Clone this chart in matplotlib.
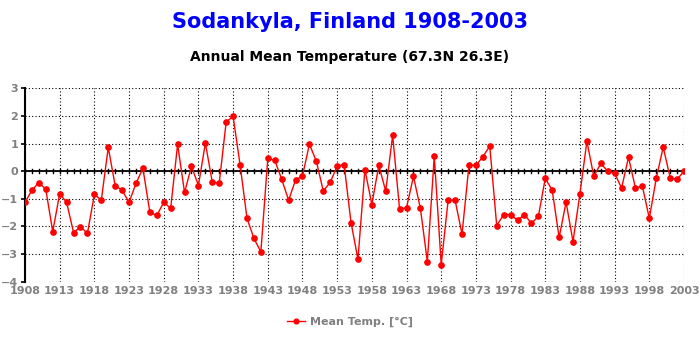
import matplotlib
matplotlib.use("Agg")
import matplotlib.pyplot as plt
import numpy as np

years = list(range(1908, 2004))
temps = [
    -1.13, -0.69, -0.41, -0.66, -2.19, -0.81, -1.13, -2.22, -2.01, -2.25,
    -0.84, -1.05, 0.86, -0.52, -0.69, -1.13, -0.44, 0.10, -1.49, -1.60,
    -1.13, -1.34, 0.97, -0.77, 0.18, -0.52, 1.02, -0.40, -0.43, 1.78,
    1.98, 0.24, -1.70, -2.43, -2.92, 0.46, 0.40, -0.29, -1.05, -0.32,
    -0.17, 0.98, 0.36, -0.72, -0.40, 0.18, 0.24, -1.86, -3.19, 0.06,
    -1.21, 0.21, -0.72, 1.30, -1.38, -1.32, -0.19, -1.35, -3.27, 0.55,
    -3.38, -1.05, -1.05, -2.28, 0.21, 0.21, 0.52, 0.91, -1.97, -1.57,
    -1.57, -1.78, -1.57, -1.89, -1.64, -0.26, -0.69, -2.40, -1.12, -2.55,
    -0.81, 1.08, -0.19, 0.28, 0.00, -0.08, -0.61, 0.50, -0.61, -0.54,
    -1.71, -0.26, 0.87, -0.23, -0.30, 0.00,
]
xticks = list(range(1908, 2004, 5))
yticks = list(range(-4, 4))

title = "Sodankyla, Finland 1908-2003"
subtitle = "Annual Mean Temperature (67.3N 26.3E)"
legend_label = "Mean Temp. [°C]"

fig = plt.figure(figsize=(7, 3.4), dpi=100)
ax = fig.add_axes([25/700, (340-281.7)/340, (684-25)/700, (281.7-88.3)/340])

grey = "#808080"
ax.set_xlim(1908, 2003)
ax.set_ylim(-4, 3)
ax.set_xticks(xticks)
ax.set_yticks(yticks)
ax.grid(True, linestyle=(0, (1, 2)), color="black", linewidth=0.8)
ax.set_axisbelow(True)

for s in ["top", "right", "bottom"]:
    ax.spines[s].set_visible(False)
ax.spines["left"].set_linewidth(1.5)
ax.spines["left"].set_color("black")

# zero line with yearly ticks
ax.axhline(0, color="black", linewidth=1.3, zorder=2)
for y in years:
    ax.plot([y, y], [-0.08, 0.08], color="black", linewidth=1.0, zorder=2)

ax.plot(years, temps, color="red", linewidth=1.0, marker="o", markersize=3.8,
        markeredgecolor="red", markerfacecolor="red", zorder=3, label=legend_label)

ax.tick_params(axis="both", length=0, labelsize=8, labelcolor=grey, pad=3)
ax.tick_params(axis="y", length=3, direction="out", color="black", width=1.2, pad=2)
for lab in ax.get_xticklabels() + ax.get_yticklabels():
    lab.set_fontweight("bold")

fig.text(0.5, 1 - 22/340, title, ha="center", va="center", color="#0000ff",
         fontsize=15, fontweight="bold")
fig.text(0.5, 1 - 57/340, subtitle, ha="center", va="center", color="black",
         fontsize=10, fontweight="bold")

leg = fig.legend(loc="center", bbox_to_anchor=(0.5, 1 - 322/340), frameon=False,
                 fontsize=8, handlelength=1.6, handletextpad=0.5, markerscale=0.9)
for t in leg.get_texts():
    t.set_color(grey)
    t.set_fontweight("bold")

fig.savefig("out.png", dpi=100, facecolor="white")
